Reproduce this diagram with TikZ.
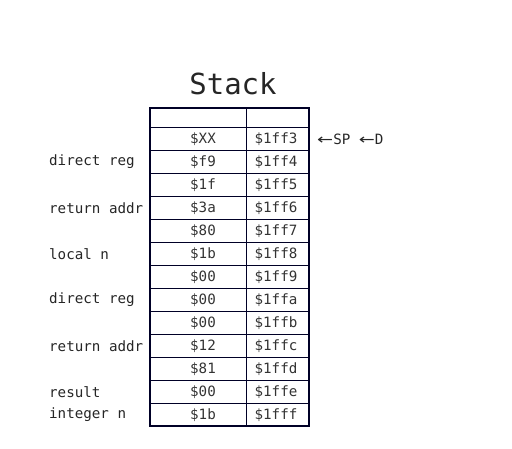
\documentclass[tikz,border=0pt]{standalone}
\usepackage{fontspec}
\usepackage{graphicx}
\newfontfamily\mono{DejaVu Sans Mono}
\newfontfamily\arrowfont{DejaVu Sans}
\newcommand{\larr}{\scalebox{1.35}[1]{\arrowfont ←}}
\begin{document}
\begin{tikzpicture}[x=1pt,y=-1pt,
  cell/.style={font=\mono\fontsize{14.2}{15}\selectfont, text=black!80, anchor=center, inner sep=0pt},
  lbl/.style={font=\mono\fontsize{14.2}{15}\selectfont, text=black!85, anchor=west, inner sep=0pt},
  grid/.style={draw=black!85!blue, line width=0.9pt},
  frame/.style={draw=black!85!blue, line width=2.8pt}]
\useasboundingbox (0,0) rectangle (512,448);
\node[font=\mono\fontsize{29}{31}\selectfont, text=black!85, inner sep=0pt] (title) at (233,84) {Stack};
% horizontal lines
\draw[grid] (150,127) -- (309,127);
\foreach \i in {1,...,12} {
  \draw[grid] (150,{127+23*\i}) -- (309,{127+23*\i});
}
\draw[grid] (246,108) -- (246,426);
\draw[frame] (150,108) rectangle (309,426);
% values
\foreach [count=\i from 0] \v/\a in {\$XX/\$1ff3,\$f9/\$1ff4,\$1f/\$1ff5,\$3a/\$1ff6,\$80/\$1ff7,\$1b/\$1ff8,\$00/\$1ff9,\$00/\$1ffa,\$00/\$1ffb,\$12/\$1ffc,\$81/\$1ffd,\$00/\$1ffe,\$1b/\$1fff} {
  \node[cell] (v\i) at (203,{139+23*\i}) {\v};
  \node[cell] (a\i) at (276,{139+23*\i}) {\a};
}
\node[lbl] (sp) at (317,139) {\larr SP \larr D};
\node[lbl] (l1) at (49,162) {direct reg};
\node[lbl] (l3) at (49,208) {return addr};
\node[lbl] (l5) at (49,254) {local n};
\node[lbl] (l7) at (49,300) {direct reg};
\node[lbl] (l9) at (49,346) {return addr};
\node[lbl] (l11) at (49,392) {result};
\node[lbl] (l12) at (49,415) {integer n};
\end{tikzpicture}
\end{document}
